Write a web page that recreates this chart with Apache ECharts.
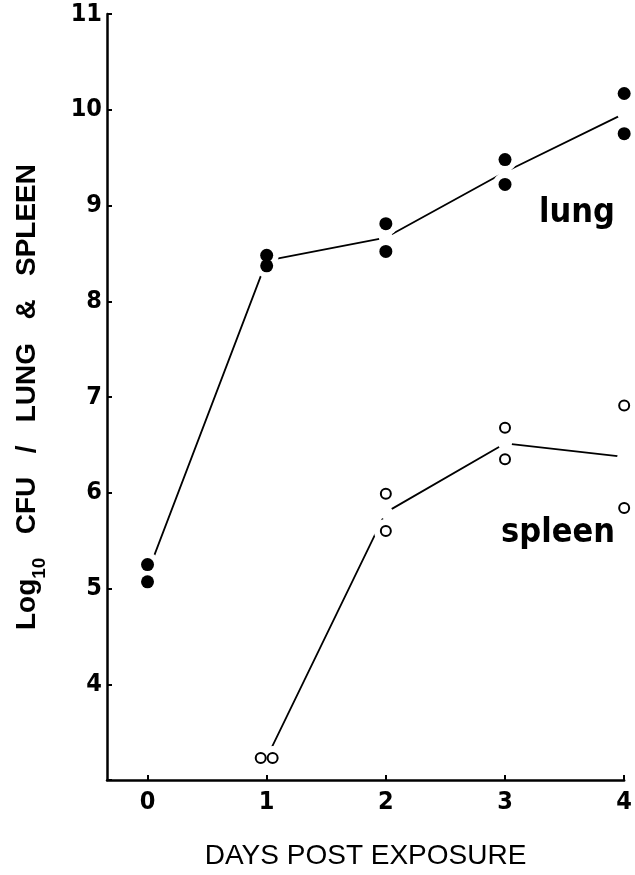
<!DOCTYPE html>
<html>
<head>
<meta charset="utf-8">
<script src="https://cdn.jsdelivr.net/npm/echarts@6/dist/echarts.min.js"></script>
<style>
  html, body { margin: 0; padding: 0; background: #fff; }
  #line-chart { width: 635px; height: 875px; }
</style>
</head>
<body>
<div id="line-chart"></div>
<script>
// days after exposure
var days = [0, 1, 2, 3, 4];
// two animals per day, log10 CFU
var lungA = [5.25, 8.48, 8.81, 9.48, 10.17];
var lungB = [5.07, 8.37, 8.52, 9.22, 9.75];
var spleenA = [null, 3.23, 5.99, 6.68, 6.91];
var spleenB = [null, 3.23, 5.60, 6.35, 5.84];
var xTicks = [0, 1, 2, 3, 4];
var yTicks = [4, 5, 6, 7, 8, 9, 10, 11];

var narrow = '"Liberation Sans Narrow", "DejaVu Sans Condensed", "Liberation Sans", sans-serif';
var plain = '"Liberation Sans", Arial, sans-serif';

function means(a, b) {
    var out = [];
    for (var i = 0; i < days.length; i++) {
        if (a[i] == null || b[i] == null) continue;
        out.push([days[i], (a[i] + b[i]) / 2]);
    }
    return out;
}

// both points of a day; when equal they sit side by side
function pts(a, b) {
    var out = [];
    for (var i = 0; i < days.length; i++) {
        if (a[i] == null) continue;
        if (a[i] === b[i]) {
            out.push([days[i] - 0.05, a[i]]);
            out.push([days[i] + 0.05, b[i]]);
        } else {
            out.push([days[i], a[i]]);
            out.push([days[i], b[i]]);
        }
    }
    return out;
}

var lungMean = means(lungA, lungB),
    spleenMean = means(spleenA, spleenB),
    lungPts = pts(lungA, lungB),
    spleenPts = pts(spleenA, spleenB);

var dom = document.getElementById("line-chart"),
    myChart = echarts.init(dom, null, { renderer: "canvas" }),
    option = null;

option = {
    backgroundColor: "#fff",
    animation: false,
    grid: { left: 107, right: 3, top: 14, bottom: 91, containLabel: false },
    xAxis: {
        type: "value",
        min: -0.34,
        max: 4,
        name: "DAYS POST EXPOSURE",
        nameLocation: "middle",
        nameGap: 62,
        nameTextStyle: { fontFamily: plain, fontSize: 28, color: "#000" },
        axisLine: { onZero: false, lineStyle: { color: "#000", width: 2.5 } },
        axisTick: { inside: true, length: 5, customValues: xTicks, lineStyle: { color: "#000", width: 2 } },
        axisLabel: {
            customValues: xTicks,
            margin: 10,
            fontFamily: narrow, fontWeight: "bold", fontSize: 25, color: "#000"
        },
        splitLine: { show: false }
    },
    yAxis: {
        type: "value",
        min: 3,
        max: 11,
        interval: 1,
        name: "{m|Log}{sub|10}{m|   CFU   /   LUNG   &   SPLEEN}",
        nameLocation: "middle",
        nameGap: 58,
        nameTextStyle: {
            fontFamily: plain, fontWeight: "bold", fontSize: 28, color: "#000",
            rich: {
                m: { fontFamily: plain, fontWeight: "bold", fontSize: 28, color: "#000", verticalAlign: "top", padding: [0, 0, 8, 0] },
                sub: { fontFamily: plain, fontWeight: "bold", fontSize: 19, color: "#000", verticalAlign: "bottom" }
            }
        },
        axisLine: { onZero: false, lineStyle: { color: "#000", width: 2.5 } },
        axisTick: { inside: true, length: 5, lineStyle: { color: "#000", width: 2 } },
        axisLabel: {
            margin: 5,
            fontFamily: narrow, fontWeight: "bold", fontSize: 25, color: "#000",
            formatter: function (v) { return yTicks.indexOf(v) > -1 ? String(v) : ""; }
        },
        splitLine: { show: false }
    },
    graphic: [
        { type: "text", x: 577, y: 213, style: { text: "lung", font: "bold 34px " + narrow, fill: "#000", align: "center", verticalAlign: "middle" } },
        { type: "text", x: 558, y: 533, style: { text: "spleen", font: "bold 34px " + narrow, fill: "#000", align: "center", verticalAlign: "middle" } }
    ],
    series: [
        { type: "line", data: lungMean, symbol: "none", z: 1, lineStyle: { color: "#000", width: 1.8 } },
        { type: "line", data: spleenMean, symbol: "none", z: 1, lineStyle: { color: "#000", width: 1.8 } },
        // white gaps where the lines meet the points
        { type: "scatter", data: lungMean.concat(spleenMean), symbolSize: 14, z: 2, itemStyle: { color: "#fff", opacity: 1 }, silent: true },
        { type: "scatter", data: lungPts.concat(spleenPts), symbolSize: 24, z: 2, itemStyle: { color: "#fff", opacity: 1 }, silent: true },
        { type: "scatter", data: lungPts, symbolSize: 13, z: 3, itemStyle: { color: "#000", opacity: 1 } },
        { type: "scatter", data: spleenPts, symbolSize: 10, z: 3, itemStyle: { color: "#fff", borderColor: "#000", borderWidth: 2, opacity: 1 } }
    ]
};

option && "object" == typeof option && myChart.setOption(option, !0);
</script>
</body>
</html>
